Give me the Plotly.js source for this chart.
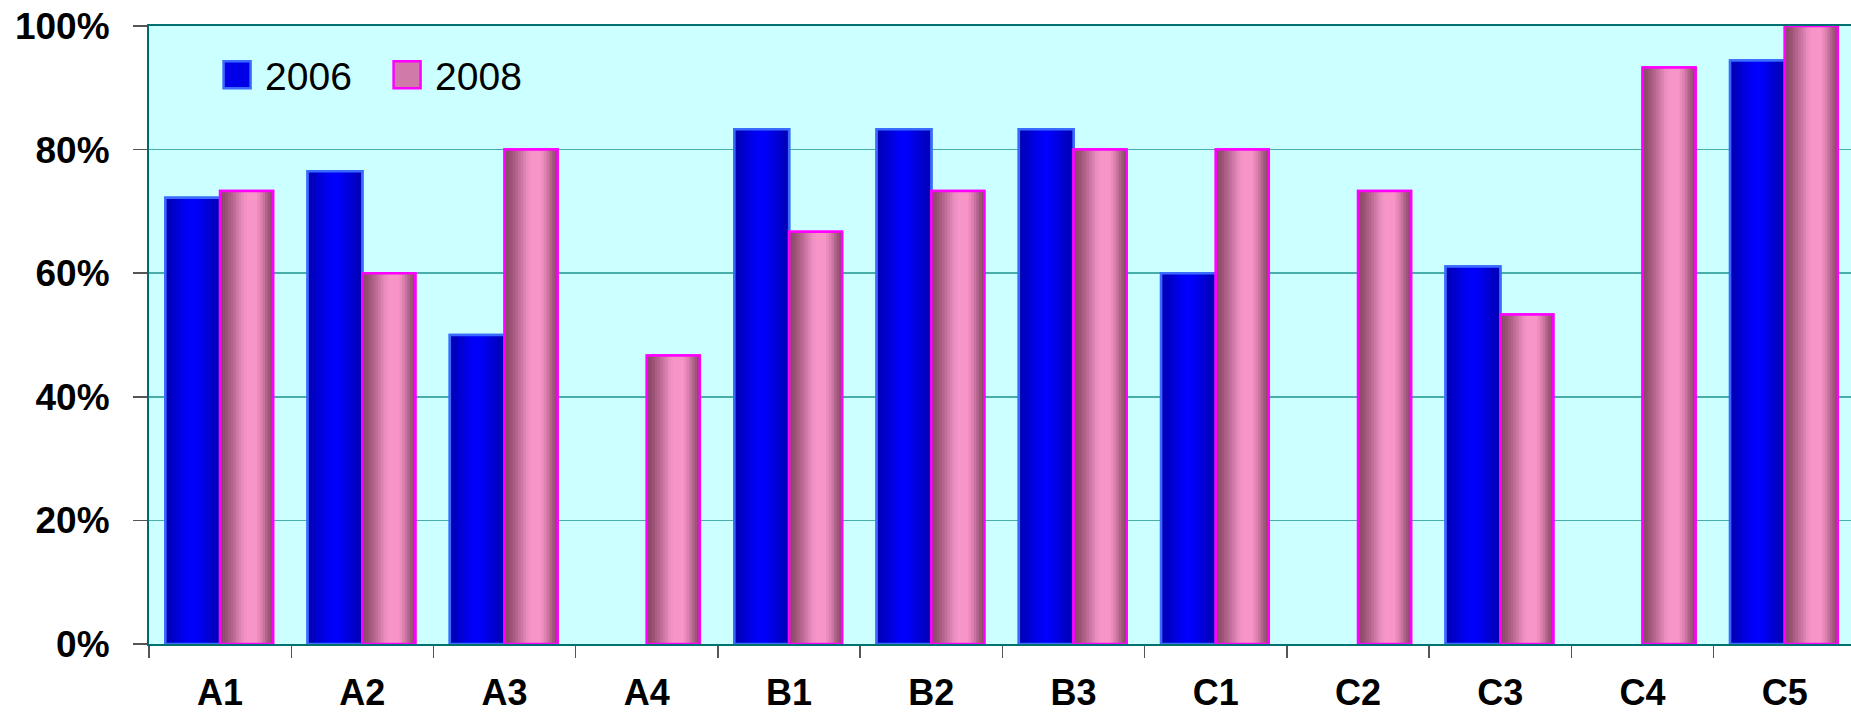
<!DOCTYPE html>
<html>
<head>
<meta charset="utf-8">
<script src="https://cdn.plot.ly/plotly-3.0.1.min.js"></script>
<style>html,body{margin:0;padding:0;background:#fff;}#chart{width:1851px;height:714px;}</style>
</head>
<body>
<div id="chart"></div>
<script>
// ---- data ----
const categories = ['A1','A2','A3','A4','B1','B2','B3','C1','C2','C3','C4','C5'];
const values2006 = [0.722, 0.765, 0.50, null, 0.833, 0.833, 0.833, 0.60, null, 0.611, null, 0.944];
const values2008 = [0.733, 0.60, 0.80, 0.467, 0.667, 0.733, 0.80, 0.80, 0.733, 0.533, 0.933, 1.00];
const seriesNames = ['2006', '2008'];

// ---- styling ----
const blueStops = [[0,'#0000B0'],[0.2,'#0000D2'],[0.38,'#0000F4'],[0.5,'#0000FF'],[0.62,'#0000F2'],[0.8,'#0000D0'],[1,'#0000B2']];
const pinkStops = [[0,'#874564'],[0.12,'#9A5374'],[0.28,'#C26F9A'],[0.42,'#E88BBE'],[0.52,'#F895C8'],[0.68,'#F895C8'],[0.8,'#D47CAA'],[0.9,'#A65C80'],[1,'#874564']];

function hex2rgb(h){return [parseInt(h.substr(1,2),16),parseInt(h.substr(3,2),16),parseInt(h.substr(5,2),16)];}
function interp(stops,t){
  for(let i=0;i<stops.length-1;i++){
    const [p0,c0]=stops[i],[p1,c1]=stops[i+1];
    if(t>=p0&&t<=p1){
      const f=(t-p0)/(p1-p0||1),a=hex2rgb(c0),b=hex2rgb(c1);
      return 'rgb('+a.map((v,k)=>Math.round(v+(b[k]-v)*f)).join(',')+')';
    }
  }
  return stops[stops.length-1][1];
}

function seriesTraces(name, y, offset, width, stops, baseColor, lineColor, n){
  const tr=[];
  tr.push({type:'bar',name:name,x:categories,y:y,offset:offset,width:width,
    marker:{color:baseColor,line:{color:lineColor,width:2.5}},hoverinfo:'skip',showlegend:true,legendgroup:name});
  const step=width/n;
  for(let i=0;i<n;i++){
    const w=Math.min(step*1.3,width-i*step);
    tr.push({type:'bar',x:categories,y:y,offset:offset+i*step,width:w,
      marker:{color:interp(stops,(i+0.5)/n),line:{width:0}},hoverinfo:'skip',showlegend:false,legendgroup:name});
  }
  tr.push({type:'bar',x:categories,y:y,offset:offset,width:width,
    marker:{color:'rgba(0,0,0,0)',line:{color:lineColor,width:2.5}},hoverinfo:'skip',showlegend:false,legendgroup:name});
  return tr;
}

const traces = [].concat(
  seriesTraces(seriesNames[0], values2006, -0.385, 0.385, blueStops, '#0000E8', '#3A6BFF', 20),
  seriesTraces(seriesNames[1], values2008, 0.0, 0.372, pinkStops, '#D07AAA', '#FF00FF', 20)
);

const tickFont = {family:'Liberation Sans, Arial, sans-serif', size:37, color:'#000', weight:700};
const xTickFont = {family:'Liberation Sans, Arial, sans-serif', size:36, color:'#000', weight:700};

const layout = {
  width:1851, height:714,
  margin:{l:149, r:0, t:26, b:70, pad:0},
  paper_bgcolor:'#FFFFFF',
  plot_bgcolor:'#CCFFFF',
  barmode:'overlay',
  showlegend:true,
  legend:{orientation:'h', x:0.040, xanchor:'left', y:0.921, yanchor:'middle',
    bgcolor:'rgba(0,0,0,0)', font:{family:'Liberation Sans, Arial, sans-serif', size:39, color:'#000'},
    entrywidth:125, entrywidthmode:'pixels', traceorder:'normal'},
  xaxis:{type:'category', range:[-0.5, 11.465], showgrid:false, zeroline:false,
    showline:true, linecolor:'#007070', linewidth:2, mirror:true,
    ticks:'outside', tickmode:'array', tickvals:[-0.5,0.5,1.5,2.5,3.5,4.5,5.5,6.5,7.5,8.5,9.5,10.5,11.5],
    ticktext:['','','','','','','','','','','','',''],
    ticklen:12, tickwidth:1.5, tickcolor:'#555', fixedrange:true},
  xaxis2:{type:'category', overlaying:'x', matches:'x', range:[-0.5, 11.465], showgrid:false, zeroline:false,
    showline:false, ticks:'', tickfont:xTickFont, ticklabelstandoff:24, side:'bottom', anchor:'y'},
  yaxis:{range:[0,1], dtick:0.2, tick0:0, tickformat:'.0%', showgrid:true, gridcolor:'#48AEAA', gridwidth:1.5,
    zeroline:false, showline:true, linecolor:'#006A6A', linewidth:2,
    ticks:'outside', ticklen:14, tickwidth:1.5, tickcolor:'#555', tickfont:tickFont, ticklabelstandoff:16, fixedrange:true}
};

// dummy trace on xaxis2 to carry category labels
traces.push({type:'bar', x:categories, y:categories.map(()=>null), xaxis:'x2', yaxis:'y', showlegend:false, hoverinfo:'skip'});

Plotly.newPlot('chart', traces, layout, {staticPlot:true, displayModeBar:false}).then(gd=>{
  const s=2.25;
  gd.querySelectorAll('.legend .traces .legendpoints path').forEach(p=>{
    const bb=p.getBBox(); if(!bb.width) return;
    const cx=bb.x+bb.width/2, cy=bb.y+bb.height/2;
    const ex=p.getAttribute('transform')||'';
    p.setAttribute('transform', ex+' translate('+cx+','+cy+') scale('+s+') translate('+(-cx)+','+(-cy)+')');
    p.style.strokeWidth=(2.5/s)+'px';
  });
  gd.querySelectorAll('.legend .traces text.legendtext').forEach(t=>{
    const x=parseFloat(t.getAttribute('x')||'0');
    t.setAttribute('x', x+8);
  });
});
</script>
</body>
</html>
